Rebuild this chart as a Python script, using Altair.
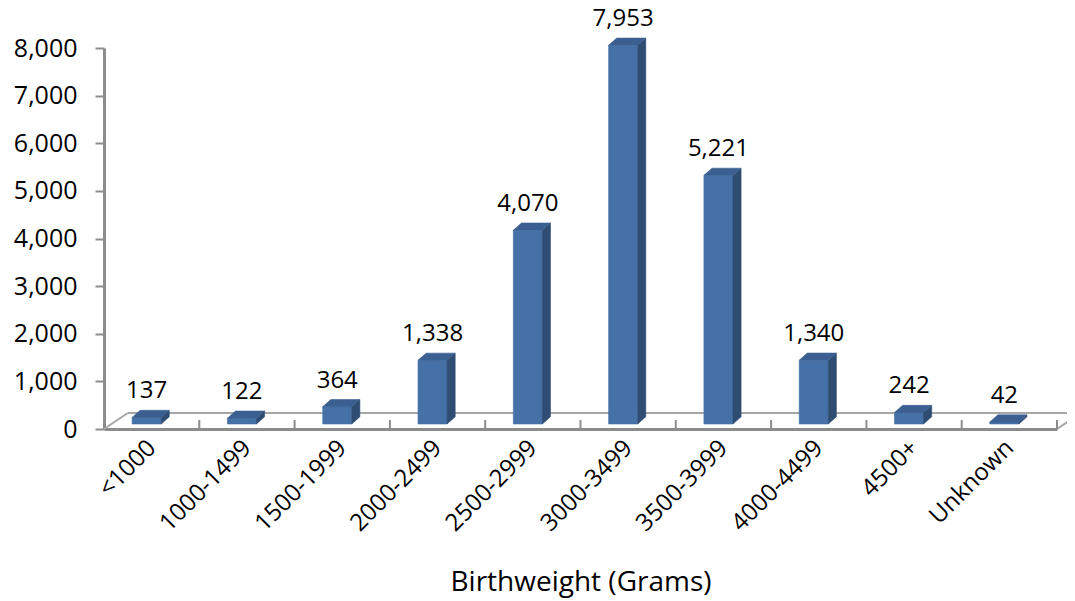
import json
import altair as alt
import pandas as pd

# ---- data ----
categories = ["<1000", "1000-1499", "1500-1999", "2000-2499", "2500-2999",
              "3000-3499", "3500-3999", "4000-4499", "4500+", "Unknown"]
counts = [137, 122, 364, 1338, 4070, 7953, 5221, 1340, 242, 42]
y_ticks = [0, 1000, 2000, 3000, 4000, 5000, 6000, 7000, 8000]
x_title = "Birthweight (Grams)"

# ---- 3-D look (in scale units) ----
BAR_L, BAR_R = 0.295, 0.60      # front face inside each category band
DX, DY = 0.085, 150             # bar depth
BASE = 105                      # bars stand slightly back on the floor
FLOOR_DX, FLOOR_DY = 0.25, 336  # floor depth

FRONT, SIDE, TOP = "#4571A7", "#2F4C73", "#3B5F90"
GRAY = "#8C8C8C"
FONT = "Open Sans"

rows = []
for i, (c, v) in enumerate(zip(categories, counts)):
    x0, x1 = i + BAR_L, i + BAR_R
    b, t = BASE, BASE + v
    key = f"{i}"
    for x, y, y2 in [(x0, b, t), (x1, b, t)]:
        rows.append(dict(k=key + "f", face="front", x=x, y=y, y2=y2))
    for x, y, y2 in [(x1, b, t), (x1 + DX, b + DY, t + DY)]:
        rows.append(dict(k=key + "s", face="side", x=x, y=y, y2=y2))
    for x, y, y2 in [(x0, t, t), (x0 + DX, t, t + DY), (x1, t, t + DY), (x1 + DX, t + DY, t + DY)]:
        rows.append(dict(k=key + "t", face="top", x=x, y=y, y2=y2))
faces = pd.DataFrame(rows)

labels = pd.DataFrame({
    "x": [i + (BAR_L + BAR_R) / 2 for i in range(len(categories))],
    "y": [BASE + v + DY for v in counts],
    "v": counts,
})

n = len(categories)
floor = pd.DataFrame([
    dict(x=FLOOR_DX, x2=n + FLOOR_DX + 0.3, y=FLOOR_DY, y2=FLOOR_DY),
    dict(x=0, x2=FLOOR_DX, y=0, y2=FLOOR_DY),
    dict(x=n, x2=n + FLOOR_DX, y=0, y2=FLOOR_DY),
])
ticks = pd.DataFrame({"x": list(range(1, n + 1))})
ticks["x2"] = ticks["x"]
ticks["y"] = 0
ticks["y2"] = 190

xscale = alt.Scale(domain=[0, n], nice=False, zero=False)
yscale = alt.Scale(domain=[0, 8000], nice=False)

label_expr = json.dumps(categories) + "[floor(datum.value)]"

x_axis = alt.Axis(values=[i + 0.5 for i in range(n)], labelExpr=label_expr,
                  labelAngle=-45, labelAlign="right", labelBaseline="middle",
                  labelPadding=15, labelFontSize=24, labelFont=FONT,
                  labelColor="#000000", labelOverlap=False, labelBound=False,
                  ticks=False, domain=True, domainColor=GRAY, domainWidth=3,
                  grid=False, title=x_title, titleFont=FONT, titleFontSize=28,
                  titleFontWeight="normal", titleColor="#000000",
                  titleY=161, titleBaseline="alphabetic")
y_axis = alt.Axis(values=y_ticks, labelExpr="format(datum.value, ',.0f')",
                  labelFontSize=25, labelFont=FONT,
                  labelColor="#000000", labelPadding=18, tickSize=9,
                  tickColor=GRAY, tickWidth=2, domainColor=GRAY, domainWidth=3,
                  grid=False, title=None)

X = lambda: alt.X("x:Q", scale=xscale, axis=x_axis, title=x_title)
Y = lambda: alt.Y("y:Q", scale=yscale, axis=y_axis, stack=None, title=None)

face_scale = alt.Scale(domain=["front", "side", "top"], range=[FRONT, SIDE, TOP])

faces_layer = alt.Chart(faces).mark_area(strokeWidth=0.6).encode(
    x=X(), y=Y(), y2="y2:Q",
    color=alt.Color("face:N", scale=face_scale, legend=None),
    stroke=alt.Stroke("face:N", scale=face_scale, legend=None),
    detail="k:N",
)

floor_layer = alt.Chart(floor).mark_rule(color="#A6A6A6", strokeWidth=2).encode(
    x=X(), x2="x2:Q", y=Y(), y2="y2:Q",
)
tick_layer = alt.Chart(ticks).mark_rule(color=GRAY, strokeWidth=2).encode(
    x=X(), x2="x2:Q", y=Y(), y2="y2:Q",
)
text_layer = alt.Chart(labels).mark_text(
    dy=-12, baseline="alphabetic", fontSize=24, font=FONT, color="#000000"
).encode(
    x=X(), y=Y(),
    text=alt.Text("v:Q", format=","),
)

chart = alt.layer(floor_layer, tick_layer, faces_layer, text_layer).properties(
    width=953, height=381,
    autosize=alt.AutoSizeParams(type="none"),
    padding={"left": 96, "top": 40, "right": 10, "bottom": 176},
    background="#ffffff",
).configure_view(stroke=None)

chart.save("out.html", embed_options={"renderer": "svg", "actions": False})
